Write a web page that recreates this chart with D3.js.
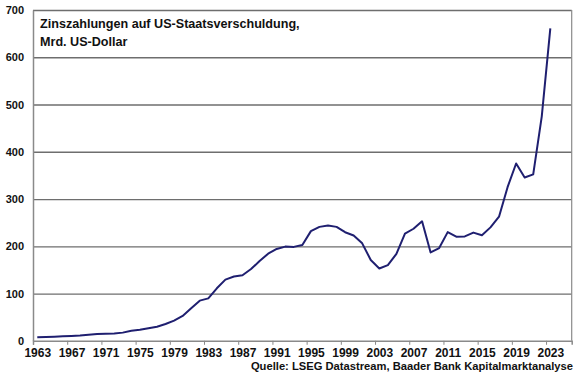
<!DOCTYPE html>
<html>
<head>
<meta charset="utf-8">
<script src="https://cdn.jsdelivr.net/npm/d3@7"></script>
<style>
  body { margin: 0; background: #fff; }
  svg { font-family: "Liberation Sans", Arial, sans-serif; }
</style>
</head>
<body>
<div class="chartContainer"></div>
<script>
// annual interest payments, bn USD
const years = d3.range(1963, 2024);
const interest = [7.7, 8.2, 8.6, 9.4, 10.3, 11.1, 12.7, 14.4, 14.8, 15.5,
                  17.3, 21.4, 23.2, 26.7, 29.9, 35.5, 42.6, 52.5, 68.8, 85.0,
                  89.8, 111.1, 129.5, 136.0, 138.6, 151.8, 169.0, 184.3, 194.4, 199.3,
                  198.7, 202.9, 232.1, 241.1, 244.0, 241.1, 229.8, 222.9, 206.2, 171.0,
                  153.1, 160.2, 184.0, 226.6, 237.1, 252.8, 186.9, 196.2, 230.0, 220.4,
                  220.9, 229.0, 223.2, 240.0, 262.6, 325.0, 375.2, 345.5, 352.3, 475.1,
                  661.0];
const yTicks = [0, 100, 200, 300, 400, 500, 600, 700];
const xLabelYears = d3.range(1963, 2024, 4);
const titleLines = ["Zinszahlungen auf US-Staatsverschuldung,", "Mrd. US-Dollar"];
const sourceText = "Quelle: LSEG Datastream, Baader Bank Kapitalmarktanalyse";

window.addEventListener("load", () => {
  drawChart();
});

function drawChart() {
  const margin = { top: 10, right: 8.3, bottom: 34.2, left: 33 },
    width = 580 - margin.left - margin.right,
    height = 375 - margin.top - margin.bottom;

  const data = years.map((yr, i) => ({ year: yr, value: interest[i] }));

  // category axis: years 1963..2025, each point in the middle of its slot
  const x = d3.scaleLinear().domain([1962.5, 2025.5]).range([0, width]);
  const y = d3.scaleLinear().domain([0, 700]).range([height, 0]);

  const svg = d3.select(".chartContainer")
    .append("svg")
    .attr("width", 580)
    .attr("height", 375)
    .append("g")
    .attr("transform", "translate(" + margin.left + "," + margin.top + ")");

  // gridlines
  svg.append("g")
    .attr("class", "grid")
    .call(d3.axisLeft(y).tickValues(yTicks.slice(1)).tickSize(-width).tickFormat(""))
    .call(g => g.select(".domain").remove())
    .selectAll("line")
    .attr("stroke", "#6e6e6e")
    .attr("stroke-width", 1.3);

  // right frame
  svg.append("line")
    .attr("x1", width).attr("x2", width)
    .attr("y1", 0).attr("y2", height)
    .attr("stroke", "#8a8a8a")
    .attr("stroke-width", 1.2);

  // y axis
  const yAxis = svg.append("g")
    .attr("class", "y axis")
    .call(d3.axisLeft(y).tickValues(yTicks).tickSize(0).tickPadding(9));
  yAxis.select(".domain").attr("stroke", "#8a8a8a").attr("stroke-width", 1.5);
  yAxis.selectAll("text")
    .attr("fill", "#111")
    .style("font-size", "11px")
    .style("font-weight", "bold");

  // x axis: tick marks at slot boundaries
  const xTickAxis = svg.append("g")
    .attr("transform", "translate(0," + height + ")")
    .call(d3.axisBottom(x).tickValues(xLabelYears.map(d => d - 0.5)).tickSize(4).tickFormat(""));
  xTickAxis.select(".domain").attr("stroke", "#8a8a8a").attr("stroke-width", 1.5);
  xTickAxis.selectAll("line").attr("stroke", "#8a8a8a");

  // x labels centred on the years
  const xLabelAxis = svg.append("g")
    .attr("transform", "translate(0," + height + ")")
    .call(d3.axisBottom(x).tickValues(xLabelYears).tickSize(0).tickPadding(8).tickFormat(d3.format("d")));
  xLabelAxis.select(".domain").remove();
  xLabelAxis.selectAll("text")
    .attr("fill", "#111")
    .style("font-size", "12px")
    .style("font-weight", "bold");

  // the line
  const line = d3.line()
    .x(d => x(d.year))
    .y(d => y(d.value));

  svg.append("path")
    .datum(data)
    .attr("fill", "none")
    .attr("stroke", "#1f1f70")
    .attr("stroke-width", 2)
    .attr("stroke-linejoin", "round")
    .attr("d", line);

  // title
  svg.append("text")
    .attr("x", 7)
    .attr("y", 18.3)
    .attr("fill", "#111")
    .style("font-size", "12.6px")
    .style("font-weight", "bold")
    .selectAll("tspan")
    .data(titleLines)
    .enter()
    .append("tspan")
    .attr("x", 7)
    .attr("dy", (d, i) => i === 0 ? 0 : 17.4)
    .text(d => d);

  // source
  d3.select(".chartContainer svg")
    .append("text")
    .attr("x", 573)
    .attr("y", 370)
    .attr("text-anchor", "end")
    .attr("fill", "#111")
    .style("font-size", "11.2px")
    .style("font-weight", "bold")
    .text(sourceText);
}
</script>
</body>
</html>
